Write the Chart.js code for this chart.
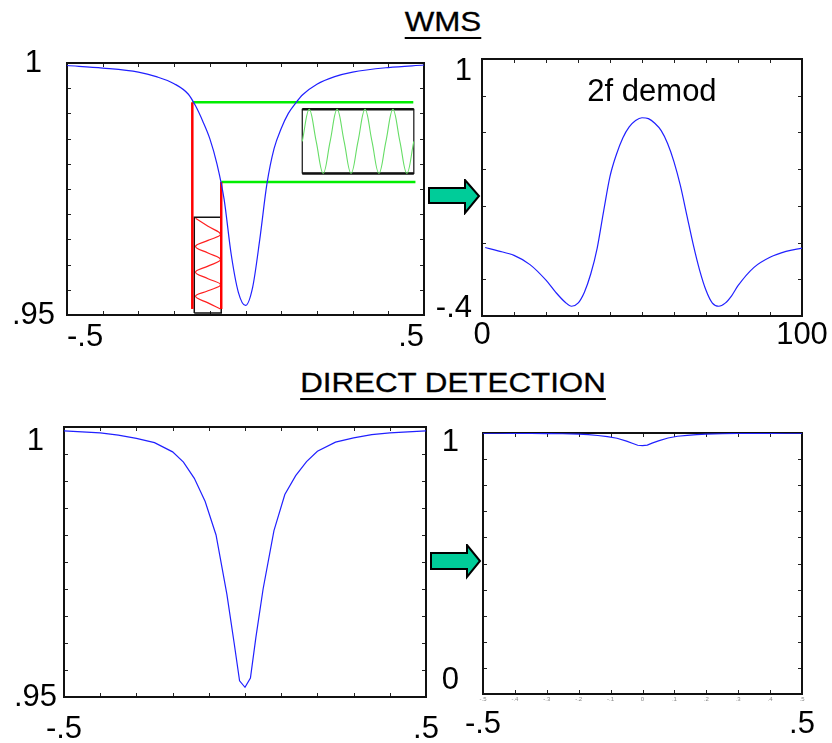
<!DOCTYPE html>
<html>
<head>
<meta charset="utf-8">
<script src="https://cdn.jsdelivr.net/npm/chart.js@4.4.1/dist/chart.umd.min.js"></script>
<style>
body{margin:0;width:832px;height:743px;overflow:hidden;background:#fff;position:relative;font-family:'Liberation Sans',Arial,sans-serif}
canvas{position:absolute}
.title{position:absolute;width:400px;text-align:center;font-size:27px;line-height:27px;white-space:nowrap;
  -webkit-text-stroke:0.3px #000;
  text-decoration:underline;text-decoration-thickness:2px;text-underline-offset:6px;transform:scaleX(1.16)}
.note{position:absolute;width:200px;text-align:center;font-size:31px;line-height:31px;white-space:nowrap}
.arrow{position:absolute;z-index:5}
</style>
</head>
<body>
<div class="title" style="left:243px;top:9px">WMS</div>
<div class="title" style="left:253px;top:370px">DIRECT DETECTION</div>
<canvas id="wms"></canvas>
<canvas id="demod"></canvas>
<canvas id="direct"></canvas>
<canvas id="norm"></canvas>
<div class="note" style="left:552px;top:75px">2f demod</div>
<svg class="arrow" style="left:428px;top:179px" width="54" height="36">
  <polygon points="1,9 37,9 37,1 51,17 37,34 37,24 1,24" fill="#00cc99" stroke="#000" stroke-width="2"/>
</svg>
<svg class="arrow" style="left:430px;top:544px" width="54" height="36">
  <polygon points="1,9 37,9 37,1 50,17 37,33 37,25 1,25" fill="#00cc99" stroke="#000" stroke-width="2"/>
</svg>
<script>
// absorption line seen through the WMS set-up (top left)
const wmsX = [-0.5,-0.4,-0.3,-0.25,-0.2,-0.16,-0.14,-0.12,-0.1,-0.08,-0.06,-0.04,-0.02,0,
  0.02,0.04,0.06,0.08,0.1,0.12,0.14,0.16,0.2,0.25,0.3,0.4,0.5]
const wmsY = [0.9995,0.9990,0.9982,0.9973,0.9959,0.9938,0.9915,0.9885,0.9850,0.9800,0.9730,0.9620,0.9545,0.9519,
  0.9555,0.9650,0.9760,0.9830,0.9870,0.9900,0.9920,0.9937,0.9958,0.9973,0.9982,0.9991,0.9996]

// 2f demodulated signal (top right)
const demodX = [1,5,10,15,20,23,26,28,30,32,34,36,38,40,42,44,46,48,50,52,54,56,58,60,62,64,66,68,70,72,74,76,78,80,85,90,95,100]
const demodY = [-0.027,-0.045,-0.07,-0.12,-0.205,-0.27,-0.325,-0.347,-0.33,-0.27,-0.17,-0.03,0.17,0.36,0.48,0.57,0.63,0.665,0.68,
  0.675,0.65,0.61,0.54,0.44,0.31,0.15,-0.01,-0.15,-0.26,-0.33,-0.347,-0.33,-0.29,-0.235,-0.135,-0.08,-0.048,-0.03]

// direct detection transmission (bottom row)
const directX = [-0.5,-0.45,-0.4,-0.35,-0.3,-0.25,-0.2,-0.17,-0.14,-0.11,-0.08,-0.05,-0.03,-0.015,0,
  0.015,0.03,0.05,0.08,0.11,0.14,0.17,0.2,0.25,0.3,0.35,0.4,0.45,0.5]
const directY = [0.9993,0.9991,0.9989,0.9985,0.9979,0.9971,0.9954,0.9935,0.9905,0.9862,0.9800,0.9690,0.9600,0.9530,0.9518,
  0.9535,0.9610,0.9700,0.9808,0.9875,0.9910,0.9936,0.9955,0.9972,0.9980,0.9986,0.9989,0.9991,0.9993]

// modulation sketch drawn inside the WMS panel, in its data units
const redLineX = [-0.149, -0.068]
const redLineTop = [0.9922, 0.9764]
const redLineBottom = 0.9512
const greenLineY = [0.9922, 0.9764]
const greenLineStart = [-0.149, -0.068]
const greenLineEnd = [0.470, 0.476]
const redBoxX = [-0.1435, -0.068]
const redBoxY = [0.9504, 0.9694]
const redWaveX = [-0.140,-0.105,-0.070,-0.105,-0.140,-0.105,-0.070,-0.105,-0.140,-0.105,-0.070,-0.105,-0.140,-0.105,-0.070]
const redWaveY = [0.9692,0.9676,0.9660,0.9648,0.9636,0.9623,0.9610,0.9597,0.9585,0.9572,0.9560,0.9548,0.9537,0.9524,0.9512]
const greenBoxX = [0.159, 0.4715]
const greenBoxY = [0.9781, 0.9908]
const greenWaveX = [0.159,0.1785,0.198,0.2176,0.2371,0.2566,0.2762,0.2957,0.3152,0.3348,0.3543,0.3738,0.3934,0.4129,0.4324,0.4520,0.4715]
const greenWaveY = [0.98445,0.9908,0.98445,0.9781,0.98445,0.9908,0.98445,0.9781,0.98445,0.9908,0.98445,0.9781,0.98445,0.9908,0.98445,0.9781,0.98445]

// end tick labels [min, max]
const wmsXLabels = ['-.5', '.5']
const wmsYLabels = ['.95', '1']
const demodXLabels = ['0', '100']
const demodYLabels = ['-.4', '1']
const directXLabels = ['-.5', '.5']
const directYLabels = ['.95', '1']
const normYLabels = ['0', '1']
// the faint small labels under the last panel
const normMinorLabels = ['-.5','-.4','-.3','-.2','-.1','0','.1','.2','.3','.4','.5']

const FONT = "'Liberation Sans', Arial, sans-serif"
const BLUE = '#2020ff'
const ML = 70, MT = 40, MR = 30, MB = 48

const zip = (xs, ys) => xs.map((x, i) => ({x, y: ys[i]}))
const rect = (xs, ys) => [{x:xs[0],y:ys[0]},{x:xs[1],y:ys[0]},{x:xs[1],y:ys[1]},{x:xs[0],y:ys[1]},{x:xs[0],y:ys[0]}]
const line = (data, color, width, extra) => Object.assign({data, borderColor: color, borderWidth: width, pointRadius: 0, tension: 0}, extra || {})
const near = (a, b) => Math.abs(a - b) < 1e-9

// frame and inward tick marks on all four sides
const frame = {
    id: 'frame',
    beforeDatasetsDraw(chart) {
        const {ctx, chartArea: a, scales: {x, y}} = chart
        ctx.save()
        ctx.strokeStyle = '#222'
        ctx.lineWidth = 1
        ctx.beginPath()
        x.ticks.forEach(t => {
            const px = Math.round(x.getPixelForValue(t.value)) + 0.5
            ctx.moveTo(px, a.bottom); ctx.lineTo(px, a.bottom - 4)
            ctx.moveTo(px, a.top); ctx.lineTo(px, a.top + 4)
        })
        y.ticks.forEach(t => {
            const py = Math.round(y.getPixelForValue(t.value)) + 0.5
            ctx.moveTo(a.left, py); ctx.lineTo(a.left + 4, py)
            ctx.moveTo(a.right, py); ctx.lineTo(a.right - 4, py)
        })
        ctx.stroke()
        ctx.strokeStyle = '#111'
        ctx.lineWidth = 2
        ctx.strokeRect(a.left, a.top, a.right - a.left, a.bottom - a.top)
        ctx.restore()
    }
}

function wrap(text, s) {
    return s > 0 ? ['', text] : s < 0 ? [text, ''] : text
}

function config(o) {
    const shiftOf = v => near(v, o.y[0]) ? o.yShift[0] : near(v, o.y[1]) ? o.yShift[1] : 0
    const scales = {
        x: {
            type: 'linear', min: o.x[0], max: o.x[1], weight: 1,
            grid: {display: false, drawTicks: false}, border: {display: false},
            afterFit: s => { s.height = o.minor ? MB - 8 : MB },
            ticks: {
                stepSize: o.x[2], autoSkip: false, maxRotation: 0, minRotation: 0,
                padding: o.xPad, align: o.xAlign || 'center', color: '#000',
                font: {family: FONT, size: 31},
                callback: v => near(v, o.x[0]) ? o.xLabels[0] : near(v, o.x[1]) ? o.xLabels[1] : ''
            }
        },
        y: {
            type: 'linear', min: o.y[0], max: o.y[1],
            grid: {display: false, drawTicks: false}, border: {display: false},
            afterFit: s => { s.width = ML },
            ticks: {
                stepSize: o.y[2], autoSkip: false,
                padding: o.yPad, crossAlign: o.yAlign || 'center', color: '#000',
                font: ctx => {
                    const s = ctx.tick ? shiftOf(ctx.tick.value) : 0
                    return s ? {family: FONT, size: 31, lineHeight: (2 * Math.abs(s)) + 'px'} : {family: FONT, size: 31}
                },
                callback: v => near(v, o.y[0]) ? wrap(o.yLabels[0], o.yShift[0]) :
                    near(v, o.y[1]) ? wrap(o.yLabels[1], o.yShift[1]) : ''
            }
        }
    }
    if (o.minor) {
        scales.x2 = {
            type: 'linear', position: 'bottom', min: o.x[0], max: o.x[1], weight: 0,
            grid: {display: false, drawTicks: false}, border: {display: false},
            afterFit: s => { s.height = 8 },
            ticks: {
                stepSize: o.x[2], autoSkip: false, maxRotation: 0, padding: 2, color: '#888',
                font: {family: FONT, size: 6},
                callback: (v, i) => o.minor[i]
            }
        }
    }
    return {
        type: 'line',
        data: {datasets: o.datasets},
        options: {
            responsive: false,
            maintainAspectRatio: false,
            animation: false,
            events: [],
            layout: {padding: {left: 0, top: MT, right: MR, bottom: 0}},
            plugins: {legend: {display: false}, tooltip: {enabled: false}},
            scales
        },
        plugins: [frame]
    }
}

// build once, see where Chart.js put the plot area, then build again so it lands on the target box
function panel(id, area, o) {
    const cv = document.getElementById(id)
    cv.width = area.r - area.l + ML + MR
    cv.height = area.b - area.t + MT + MB
    let chart = new Chart(cv, config(o))
    let a = chart.chartArea
    const w = cv.width + (area.r - area.l) - (a.right - a.left)
    const h = cv.height + (area.b - area.t) - (a.bottom - a.top)
    chart.destroy()
    cv.width = Math.round(w)
    cv.height = Math.round(h)
    chart = new Chart(cv, config(o))
    a = chart.chartArea
    cv.style.left = (area.l - a.left) + 'px'
    cv.style.top = (area.t - a.top) + 'px'
    return chart
}

panel('wms', {l: 67, t: 63, r: 424, b: 315}, {
    x: [-0.5, 0.5, 0.1], y: [0.95, 1, 0.005],
    xLabels: wmsXLabels, yLabels: wmsYLabels, xPad: 4, xAlign: 'inner', yPad: 12, yShift: [0, 0],
    datasets: [
        line(zip(wmsX, wmsY), BLUE, 1.2, {cubicInterpolationMode: 'monotone'}),
        line([{x: redLineX[0], y: redLineBottom}, {x: redLineX[0], y: redLineTop[0]}], '#ff0000', 2.5),
        line([{x: redLineX[1], y: redLineBottom}, {x: redLineX[1], y: redLineTop[1]}], '#ff0000', 2.5),
        line([{x: greenLineStart[0], y: greenLineY[0]}, {x: greenLineEnd[0], y: greenLineY[0]}], '#00ee00', 2.5),
        line([{x: greenLineStart[1], y: greenLineY[1]}, {x: greenLineEnd[1], y: greenLineY[1]}], '#00ee00', 2.5),
        line(zip(redWaveX, redWaveY), '#ff2020', 1.2, {tension: 0.4}),
        line(rect(redBoxX, redBoxY), '#111', 1.5),
        line(zip(greenWaveX, greenWaveY), '#66dd66', 1.1, {tension: 0.4}),
        line([{x: greenBoxX[0], y: greenBoxY[1]}, {x: greenBoxX[1], y: greenBoxY[1]}], '#111', 2.5),
        line([{x: greenBoxX[0], y: greenBoxY[0]}, {x: greenBoxX[1], y: greenBoxY[0]}], '#111', 2.5),
        line(rect(greenBoxX, greenBoxY), '#111', 1.2)
    ]
})

panel('demod', {l: 482, t: 59, r: 802, b: 316}, {
    x: [0, 100, 10], y: [-0.4, 1, 0.2],
    xLabels: demodXLabels, yLabels: demodYLabels, xPad: 1, yPad: 10, yAlign: 'near', yShift: [-8, 12],
    datasets: [line(zip(demodX, demodY), BLUE, 1.2, {cubicInterpolationMode: 'monotone'})]
})

panel('direct', {l: 64, t: 427, r: 426, b: 697}, {
    x: [-0.5, 0.5, 0.1], y: [0.95, 1, 0.005],
    xLabels: directXLabels, yLabels: directYLabels, xPad: 14, yPad: 7, yShift: [0, 14],
    datasets: [line(zip(directX, directY), BLUE, 1.2)]
})

panel('norm', {l: 483, t: 433, r: 802, b: 694}, {
    x: [-0.5, 0.5, 0.1], y: [0, 1, 0.1],
    xLabels: directXLabels, yLabels: normYLabels, xPad: 4, yPad: 24, yShift: [-14, 9],
    minor: normMinorLabels,
    datasets: [line(zip(directX, directY), BLUE, 1.2)]
})
</script>
</body>
</html>
